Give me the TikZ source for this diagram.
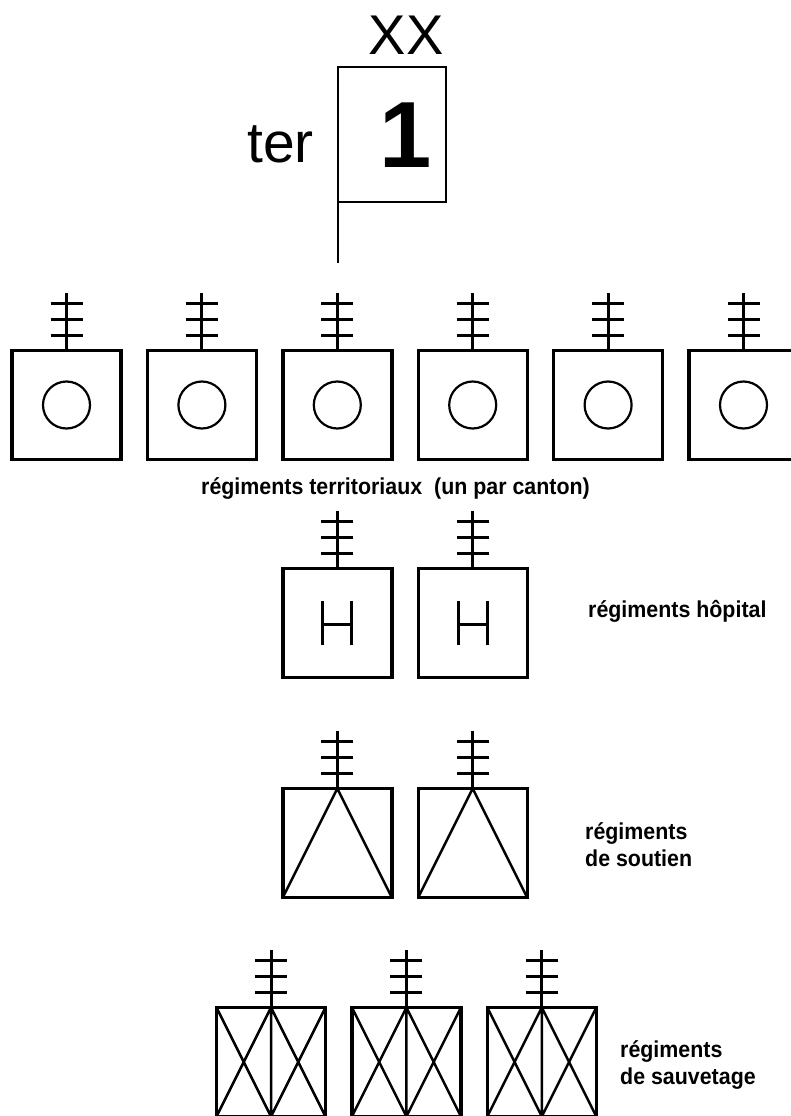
\documentclass[tikz,border=0pt]{standalone}
\usepackage{fontspec}
\setmainfont{Liberation Sans}
\newfontfamily\labelfont[FakeStretch=0.93]{Liberation Sans}
\usepackage{tikz}
\usetikzlibrary{positioning}

\begin{document}
\begin{tikzpicture}[
				x=1pt, y=1pt,
				unitbox/.style={rectangle, draw, line width=3.4pt, minimum size=109pt, inner sep=0pt, outer sep=0pt},
				hqbox/.style={rectangle, draw, line width=2.8pt, minimum width=108pt, minimum height=135pt, inner sep=0pt, outer sep=0pt},
				antenna/.style={line width=3pt},
				sign/.style={line width=2.5pt},
				caption/.style={inner sep=0pt, font=\labelfont\bfseries\fontsize{23}{27}\selectfont, align=left},
				node distance = 26.4pt,
				]
				\clip (0,0) rectangle (791,-1116);
				%Nodes
				\node[hqbox](div) at (392,-134.5){};
				\node[inner sep=0pt, font=\fontsize{94}{94}\selectfont\bfseries](num) at (406,-135){1};
				\node[inner sep=0pt, font=\fontsize{56}{56}\selectfont](xx) at (406,-35){XX};
				\node[inner sep=0pt, anchor=base east, font=\fontsize{57}{57}\selectfont](ter) at (314,-162){ter};
				\coordinate (divfoot) at (338,-263);

				\node[unitbox](t1) at (66.5,-405){};
				\node[unitbox](t2)[right=of t1]{};
				\node[unitbox](t3)[right=of t2]{};
				\node[unitbox](t4)[right=of t3]{};
				\node[unitbox](t5)[right=of t4]{};
				\node[unitbox](t6)[right=of t5]{};
				\node[caption, anchor=base](tlbl) at (395.5,-494){régiments territoriaux\ \ (un par canton)};

				\node[unitbox](h1) at (337.3,-623){};
				\node[unitbox](h2)[right=of h1]{};
				\node[caption, anchor=base west](hlbl) at (588,-617){régiments hôpital};

				\node[unitbox](s1) at (337.3,-843){};
				\node[unitbox](s2)[right=of s1]{};
				\node[caption, anchor=base west](slbl) at (585,-866){régiments\\de soutien};

				\node[unitbox](r1) at (271,-1062){};
				\node[unitbox](r2)[right=of r1]{};
				\node[unitbox](r3)[right=of r2]{};
				\node[caption, anchor=base west](rlbl) at (620,-1084){régiments\\de sauvetage};

				%Lines
				\draw[line width=2.5pt] (div.south west) -- (divfoot);
				\foreach \u in {t1,t2,t3,t4,t5,t6,h1,h2,s1,s2,r1,r2,r3}
					\draw[antenna] (\u.north) -- ++(0,58) ++(-16,-11) -- ++(32,0) ++(-32,-16) -- ++(32,0) ++(-32,-16) -- ++(32,0);
				\foreach \u in {t1,t2,t3,t4,t5,t6}
					\draw[line width=2.2pt] (\u.center) circle (23.5pt);
				\foreach \u in {h1,h2}
					\draw[antenna] (\u.center) ++(-14.5,22) -- ++(0,-44) ++(29,0) -- ++(0,44) ++(0,-23) -- ++(-29,0);
				\foreach \u in {s1,s2}
					\draw[sign] (\u.south west) -- (\u.north) -- (\u.south east);
				\foreach \u in {r1,r2,r3}
					\draw[sign] (\u.north west) -- (\u.south) -- (\u.north east) (\u.south west) -- (\u.north) -- (\u.south east) (\u.north) -- (\u.south);

			\end{tikzpicture}
\end{document}
